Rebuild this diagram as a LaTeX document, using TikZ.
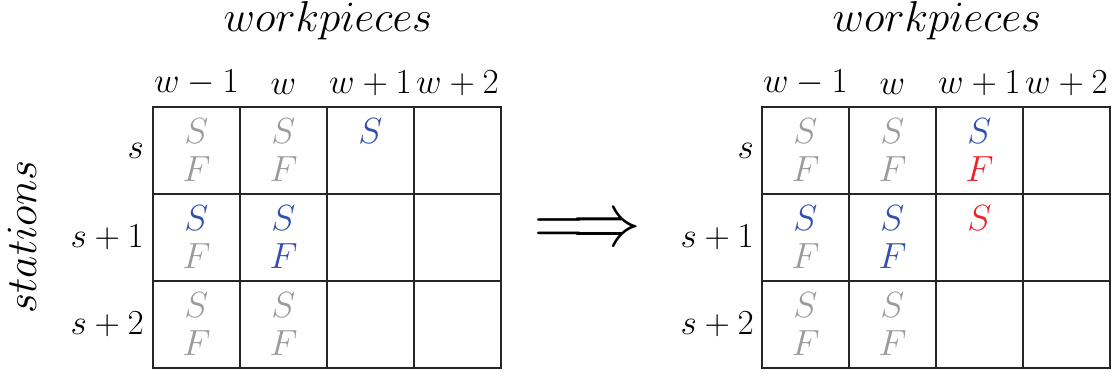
\RequirePackage{fix-cm}
\documentclass[tikz,border=0pt]{standalone}
\definecolor{oldgray}{RGB}{155,155,155}
\definecolor{newblue}{RGB}{50,80,175}
\definecolor{newred}{RGB}{235,35,40}
\newcommand{\sGray}{\textcolor{oldgray}{$S$}}
\newcommand{\fGray}{\textcolor{oldgray}{$F$}}
\newcommand{\sBlue}{\textcolor{newblue}{$S$}}
\newcommand{\fBlue}{\textcolor{newblue}{$F$}}
\newcommand{\sRed}{\textcolor{newred}{$S$}}
\newcommand{\fRed}{\textcolor{newred}{$F$}}
\newcommand{\fNone}{\phantom{$F$}}
\begin{document}
\begin{tikzpicture}[x=0.02cm, y=-0.02cm,
  cell/.style={
    draw=black!85, line width=0.6pt,
    minimum width=1.74cm,
    minimum height=1.74cm,
    inner sep=0pt,
    align=center,
    font=\fontsize{20.7}{21.6}\selectfont
  },
  collab/.style={font=\fontsize{20}{24}\selectfont},
  rowlab/.style={anchor=east, font=\fontsize{20}{24}\selectfont},
  title/.style={font=\fontsize{24.6}{28}\selectfont}
]
  \useasboundingbox (0,0) rectangle (1117,376);
  % Before
  \node[title] (wpL) at (328,20.5) {$workpieces$};
  \node[title, rotate=90] (st) at (22,237) {$stations$};
  \node[collab] (cL1) at (196.5,83) {$w-1$};
  \node[collab] (cL2) at (283.5,87) {$w$};
  \node[collab] (cL3) at (370.5,83) {$w+1$};
  \node[collab] (cL4) at (457.5,83) {$w+2$};
  \node[rowlab] (rL1) at (150,150.5) {$s$};
  \node[rowlab] (rL2) at (150,237.5) {$s+1$};
  \node[rowlab] (rL3) at (150,324.5) {$s+2$};
  \node[cell] (L11) at (196.5,150.5) {\sGray\\\fGray};
  \node[cell] (L12) at (283.5,150.5) {\sGray\\\fGray};
  \node[cell] (L13) at (370.5,150.5) {\sBlue\\\fNone};
  \node[cell] (L14) at (457.5,150.5) {};
  \node[cell] (L21) at (196.5,237.5) {\sBlue\\\fGray};
  \node[cell] (L22) at (283.5,237.5) {\sBlue\\\fBlue};
  \node[cell] (L23) at (370.5,237.5) {};
  \node[cell] (L24) at (457.5,237.5) {};
  \node[cell] (L31) at (196.5,324.5) {\sGray\\\fGray};
  \node[cell] (L32) at (283.5,324.5) {\sGray\\\fGray};
  \node[cell] (L33) at (370.5,324.5) {};
  \node[cell] (L34) at (457.5,324.5) {};
  % Implies
  \node[font=\fontsize{39}{40}\selectfont, inner sep=0pt] (impl) at (588,232)
        {\scalebox{1}[1.1]{$\Longrightarrow$}};
  % After
  \node[title] (wpR) at (937,20.5) {$workpieces$};
  \node[collab] (cR1) at (805.5,83) {$w-1$};
  \node[collab] (cR2) at (892.5,87) {$w$};
  \node[collab] (cR3) at (979.5,83) {$w+1$};
  \node[collab] (cR4) at (1066.5,83) {$w+2$};
  \node[rowlab] (rR1) at (760,150.5) {$s$};
  \node[rowlab] (rR2) at (760,237.5) {$s+1$};
  \node[rowlab] (rR3) at (760,324.5) {$s+2$};
  \node[cell] (R11) at (805.5,150.5) {\sGray\\\fGray};
  \node[cell] (R12) at (892.5,150.5) {\sGray\\\fGray};
  \node[cell] (R13) at (979.5,150.5) {\sBlue\\\fRed};
  \node[cell] (R14) at (1066.5,150.5) {};
  \node[cell] (R21) at (805.5,237.5) {\sBlue\\\fGray};
  \node[cell] (R22) at (892.5,237.5) {\sBlue\\\fBlue};
  \node[cell] (R23) at (979.5,237.5) {\sRed\\\fNone};
  \node[cell] (R24) at (1066.5,237.5) {};
  \node[cell] (R31) at (805.5,324.5) {\sGray\\\fGray};
  \node[cell] (R32) at (892.5,324.5) {\sGray\\\fGray};
  \node[cell] (R33) at (979.5,324.5) {};
  \node[cell] (R34) at (1066.5,324.5) {};
\end{tikzpicture}
\end{document}
